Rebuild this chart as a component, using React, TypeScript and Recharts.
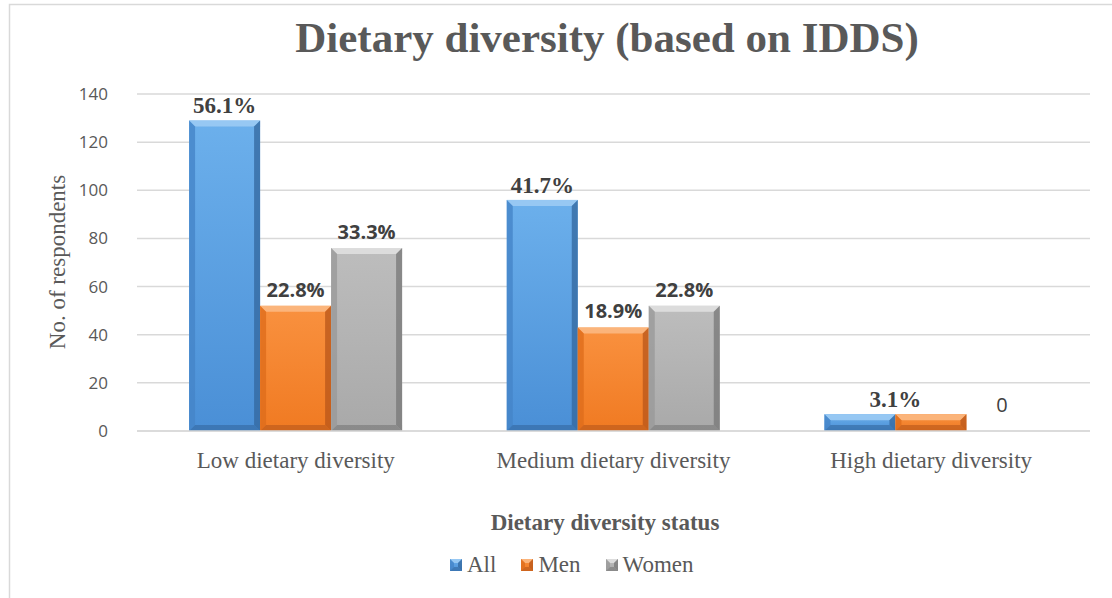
import React from 'react';
import { BarChart, Bar, XAxis, YAxis, CartesianGrid, Legend, LabelList } from 'recharts';

const categories = ['Low dietary diversity', 'Medium dietary diversity', 'High dietary diversity'];
const allValues = [129, 96, 7];
const menValues = [52, 43, 7];
const womenValues = [76, 52, 0];
const allLabels = ['56.1%', '41.7%', '3.1%'];
const menLabels = ['22.8%', '18.9%', ''];
const womenLabels = ['33.3%', '22.8%', '0'];
const yTicks = [0, 20, 40, 60, 80, 100, 120, 140];

const SERIF = '"Liberation Serif", "Times New Roman", serif';
const SANS = '"Open Sans", "Liberation Sans", sans-serif';

const palettes: Record<string, { top: string; bottom: string; light: string; side: string; dark: string }> = {
  All: { top: '#6cb0ec', bottom: '#4a8fd6', light: '#9fcdf5', side: '#4585c8', dark: '#33679e' },
  Men: { top: '#f9913f', bottom: '#f07a22', light: '#fbbb86', side: '#de6d1c', dark: '#b8561a' },
  Women: { top: '#bdbdbd', bottom: '#a9a9a9', light: '#e2e2e2', side: '#9a9a9a', dark: '#777777' },
};

const data = categories.map((name, i) => ({
  name,
  All: allValues[i],
  Men: menValues[i],
  Women: womenValues[i],
  allLabel: allLabels[i],
  menLabel: menLabels[i],
  womenLabel: womenLabels[i],
}));

// bevelled rect, roughly like the excel preset
const bevel = (key: string, x: number, y: number, w: number, h: number, b0 = 6) => {
  const p = palettes[key];
  if (!h || h <= 0) return <g />;
  const b = Math.min(b0, h / 2, w / 2);
  const gid = `grad-${key}`;
  return (
    <g>
      <defs>
        <linearGradient id={gid} x1='0' y1='0' x2='0' y2='1'>
          <stop offset='0%' stopColor={p.top} />
          <stop offset='100%' stopColor={p.bottom} />
        </linearGradient>
      </defs>
      <rect x={x} y={y} width={w} height={h} fill={`url(#${gid})`} />
      <polygon points={`${x},${y} ${x + w},${y} ${x + w - b},${y + b} ${x + b},${y + b}`} fill={p.light} opacity={0.85} />
      <polygon points={`${x},${y} ${x + b},${y + b} ${x + b},${y + h - b} ${x},${y + h}`} fill={p.side} opacity={0.8} />
      <polygon points={`${x + w},${y} ${x + w},${y + h} ${x + w - b},${y + h - b} ${x + w - b},${y + b}`} fill={p.dark} opacity={0.75} />
      <polygon points={`${x},${y + h} ${x + w},${y + h} ${x + w - b},${y + h - b} ${x + b},${y + h - b}`} fill={p.dark} opacity={0.6} />
    </g>
  );
};

const makeShape = (key: string) => (props: any) => bevel(key, props.x, props.y, props.width, props.height);

const serifLabel = (props: any) => {
  const { x, y, width, value, index } = props;
  if (!value) return null;
  // the small "high" label sits between the All and Men bars
  const cx = index === 2 ? x + width : x + width / 2;
  return (
    <text x={cx} y={y - 7} textAnchor='middle' fontFamily={SERIF} fontWeight='bold' fontSize={23} fill='#404040'>
      {value}
    </text>
  );
};

const sansLabel = (props: any) => {
  const { x, y, width, value } = props;
  if (!value) return null;
  const isZero = value === '0';
  return (
    <text
      x={x + width / 2}
      y={isZero ? y - 19 : y - 9}
      textAnchor='middle'
      fontFamily={SANS}
      fontWeight={isZero ? 'normal' : 'bold'}
      fontSize={20}
      fill='#404040'
    >
      {value}
    </text>
  );
};

const renderLegend = (props: any) => {
  const { payload } = props;
  return (
    <div style={{ display: 'flex', alignItems: 'center' }}>
      {payload.map((entry: any) => (
        <div key={entry.value} style={{ display: 'flex', alignItems: 'center', marginRight: 25 }}>
          <svg width={12} height={12} style={{ marginRight: 5 }}>
            {bevel(entry.value, 0, 0, 12, 12, 4)}
          </svg>
          <span style={{ fontFamily: SERIF, fontSize: 23, color: '#595959', lineHeight: '24px' }}>{entry.value}</span>
        </div>
      ))}
    </div>
  );
};

const App: React.FC = () => {
  return (
    <div style={{ position: 'absolute', left: 0, top: 0, width: 1112, height: 598, background: '#fff' }}>
      <BarChart
        width={1112}
        height={598}
        data={data}
        margin={{ top: 94, right: 22, bottom: 107, left: 67 }}
        barCategoryGap='16.4%'
        barGap={0}
      >
        <CartesianGrid vertical={false} stroke='#d9d9d9' strokeWidth={1.5} />
        <XAxis
          dataKey='name'
          height={60}
          tickLine={false}
          tickSize={0}
          tickMargin={21}
          axisLine={{ stroke: '#d9d9d9', strokeWidth: 1.5 }}
          tick={{ fontFamily: SERIF, fontSize: 23, fill: '#595959' }}
        />
        <YAxis
          width={70}
          domain={[0, 140]}
          ticks={yTicks}
          axisLine={false}
          tickLine={false}
          tickSize={0}
          tickMargin={29}
          tick={{ fontFamily: SANS, fontSize: 17, fill: '#595959' }}
        />
        <Legend
          layout='horizontal'
          verticalAlign='middle'
          align='center'
          content={renderLegend}
          wrapperStyle={{ top: 553, left: 450, width: 320, height: 26 }}
        />
        <Bar dataKey='All' fill='#5b9bd5' isAnimationActive={false} shape={makeShape('All')}>
          <LabelList dataKey='allLabel' content={serifLabel} />
        </Bar>
        <Bar dataKey='Men' fill='#ed7d31' isAnimationActive={false} shape={makeShape('Men')}>
          <LabelList dataKey='menLabel' content={sansLabel} />
        </Bar>
        <Bar dataKey='Women' fill='#a5a5a5' isAnimationActive={false} shape={makeShape('Women')}>
          <LabelList dataKey='womenLabel' content={sansLabel} />
        </Bar>
      </BarChart>
      <svg width={1112} height={598} style={{ position: 'absolute', left: 0, top: 0, pointerEvents: 'none' }}>
        <path d='M9.5,598 L9.5,4.5 L1112,4.5' fill='none' stroke='#d9d9d9' strokeWidth={1.5} />
        <text x={607} y={52} textAnchor='middle' fontFamily={SERIF} fontWeight='bold' fontSize={43} fill='#595959'>
          Dietary diversity (based on IDDS)
        </text>
        <text x={605} y={530} textAnchor='middle' fontFamily={SERIF} fontWeight='bold' fontSize={23} fill='#595959'>
          Dietary diversity status
        </text>
        <text
          x={65}
          y={262}
          textAnchor='middle'
          transform='rotate(-90, 65, 262)'
          fontFamily={SERIF}
          fontSize={23}
          fill='#595959'
        >
          No. of respondents
        </text>
      </svg>
    </div>
  );
};

export default App;
